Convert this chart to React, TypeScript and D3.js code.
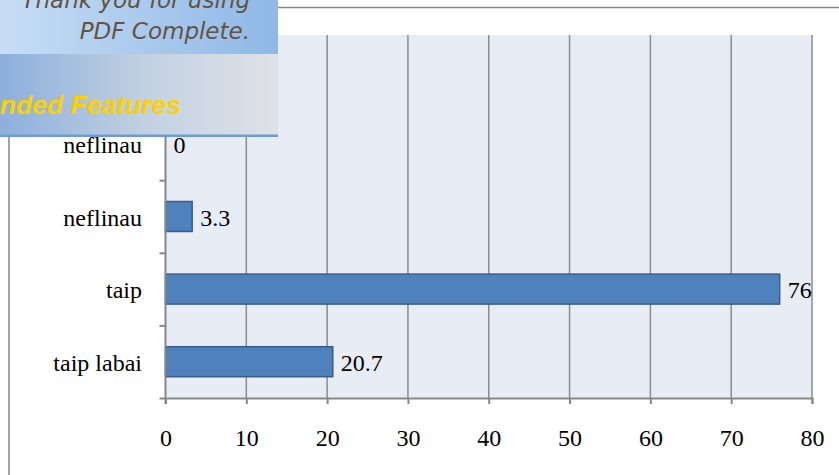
import React, { useEffect, useRef } from "react";
import { axisBottom, axisLeft, scaleBand, scaleLinear, select } from "d3";

// categories top to bottom (top one sits under the PDF Complete banner)
const categories = ["visai ne", "neflinau ", "neflinau", "taip", "taip labai"];
const values = [0, 0, 3.3, 76, 20.7];
const xTicks = [0, 10, 20, 30, 40, 50, 60, 70, 80];

const width = 839;
const height = 475;
const margins = { top: 35, right: 27, bottom: 77, left: 165.5 };
const serif = "'Liberation Serif', 'Times New Roman', serif";

export default function App() {
	const ref = useRef<SVGSVGElement>(null);

	useEffect(() => {
		const svg = select(ref.current);
		svg.selectAll("*").remove();

		const plotW = width - margins.left - margins.right;
		const plotH = height - margins.top - margins.bottom;

		const xScale = scaleLinear().domain([0, 80]).range([0, plotW]);
		const yScale = scaleBand<string>()
			.domain(categories)
			.range([0, plotH])
			.paddingInner(0.587)
			.paddingOuter(0.2935);

		// chart border (frame runs off the right/bottom edge)
		svg.append("rect")
			.attr("x", 9)
			.attr("y", 7.5)
			.attr("width", 900)
			.attr("height", 600)
			.attr("fill", "#fff")
			.attr("stroke", "#878787")
			.attr("stroke-width", 1.5);

		const g = svg
			.append("g")
			.attr("transform", `translate(${margins.left},${margins.top})`);

		//Plot area background
		g.append("rect")
			.attr("width", plotW)
			.attr("height", plotH)
			.attr("fill", "#E8ECF4");

		//Gridlines
		g.selectAll(".grid")
			.data(xTicks.slice(1))
			.enter()
			.append("line")
			.attr("x1", d => xScale(d))
			.attr("x2", d => xScale(d))
			.attr("y1", 0)
			.attr("y2", plotH)
			.attr("stroke", "#8c8c8c")
			.attr("stroke-width", 1.5);

		//Bars + data labels
		categories.forEach((c, i) => {
			const v = values[i];
			const y0 = yScale(c) as number;
			if (v > 0) {
				g.append("rect")
					.attr("x", 0)
					.attr("y", y0)
					.attr("width", xScale(v))
					.attr("height", yScale.bandwidth())
					.attr("fill", "#4F81BD")
					.attr("stroke", "#385D8A")
					.attr("stroke-width", 1.5);
			}
			g.append("text")
				.attr("x", xScale(v) + 8)
				.attr("y", y0 + yScale.bandwidth() / 2 + 9)
				.attr("font-family", serif)
				.attr("font-size", 24)
				.attr("fill", "#000")
				.text(String(v));
		});

		//Axes
		const yAxis = axisLeft(
			scaleLinear().domain([0, categories.length]).range([0, plotH])
		)
			.tickValues(categories.map((_, i) => i).concat([categories.length]))
			.tickSize(6)
			.tickFormat(() => "");
		const ya = g.append("g").call(yAxis);
		ya.select(".domain").remove();
		ya.selectAll("line").attr("stroke", "#878787").attr("stroke-width", 2);
		g.append("line")
			.attr("x1", 0)
			.attr("x2", 0)
			.attr("y1", 0)
			.attr("y2", plotH + 6)
			.attr("stroke", "#878787")
			.attr("stroke-width", 2);

		const xAxis = axisBottom(xScale).tickValues(xTicks).tickSize(6).tickPadding(25);
		const xa = g.append("g").attr("transform", `translate(0,${plotH})`).call(xAxis);
		xa.select(".domain").attr("stroke", "#878787").attr("stroke-width", 2);
		xa.selectAll("line").attr("stroke", "#878787").attr("stroke-width", 2);
		xa.selectAll("text")
			.attr("font-family", serif)
			.attr("font-size", 24)
			.attr("fill", "#000");

		//Category labels
		categories.forEach(c => {
			g.append("text")
				.attr("x", 142 - margins.left)
				.attr("y", (yScale(c) as number) + yScale.bandwidth() / 2 + 9)
				.attr("text-anchor", "end")
				.attr("font-family", serif)
				.attr("font-size", 24)
				.attr("fill", "#000")
				.text(c.trim());
		});

		// PDF Complete banner on top
		const defs = svg.append("defs");
		const g1 = defs.append("linearGradient").attr("id", "bannerTop");
		g1.append("stop").attr("offset", "0%").attr("stop-color", "#C7DDF5");
		g1.append("stop").attr("offset", "100%").attr("stop-color", "#8FB8E7");
		const g2 = defs.append("linearGradient").attr("id", "bannerBottom");
		g2.append("stop").attr("offset", "0%").attr("stop-color", "#8DAFDC");
		g2.append("stop").attr("offset", "55%").attr("stop-color", "#C4D2E2");
		g2.append("stop").attr("offset", "100%").attr("stop-color", "#DFE2E7");

		const banner = svg.append("g");
		banner.append("rect").attr("x", 0).attr("y", 0).attr("width", 278).attr("height", 54).attr("fill", "url(#bannerTop)");
		banner.append("rect").attr("x", 0).attr("y", 54).attr("width", 278).attr("height", 81).attr("fill", "url(#bannerBottom)");
		banner.append("rect").attr("x", 0).attr("y", 134.5).attr("width", 278).attr("height", 2.5).attr("fill", "#6C9BD6");
		banner.append("text")
			.attr("x", 250)
			.attr("y", 8)
			.attr("text-anchor", "end")
			.attr("font-family", "'DejaVu Sans', Verdana, sans-serif")
			.attr("font-style", "italic")
			.attr("font-size", 23)
			.attr("fill", "#625443")
			.text("Thank you for using");
		banner.append("text")
			.attr("x", 250)
			.attr("y", 39)
			.attr("text-anchor", "end")
			.attr("font-family", "'DejaVu Sans', Verdana, sans-serif")
			.attr("font-style", "italic")
			.attr("font-size", 23)
			.attr("fill", "#625443")
			.text("PDF Complete.");
		banner.append("text")
			.attr("x", 181)
			.attr("y", 114)
			.attr("text-anchor", "end")
			.attr("font-family", "'Liberation Sans', Arial, sans-serif")
			.attr("font-style", "italic")
			.attr("font-weight", "bold")
			.attr("font-size", 26.5)
			.attr("fill", "#FDD000")
			.text("nded Features");
	}, []);

	return (
		<svg
			ref={ref}
			width={width}
			height={height}
			style={{ position: "absolute", left: 0, top: 0, display: "block" }}
		/>
	);
}
